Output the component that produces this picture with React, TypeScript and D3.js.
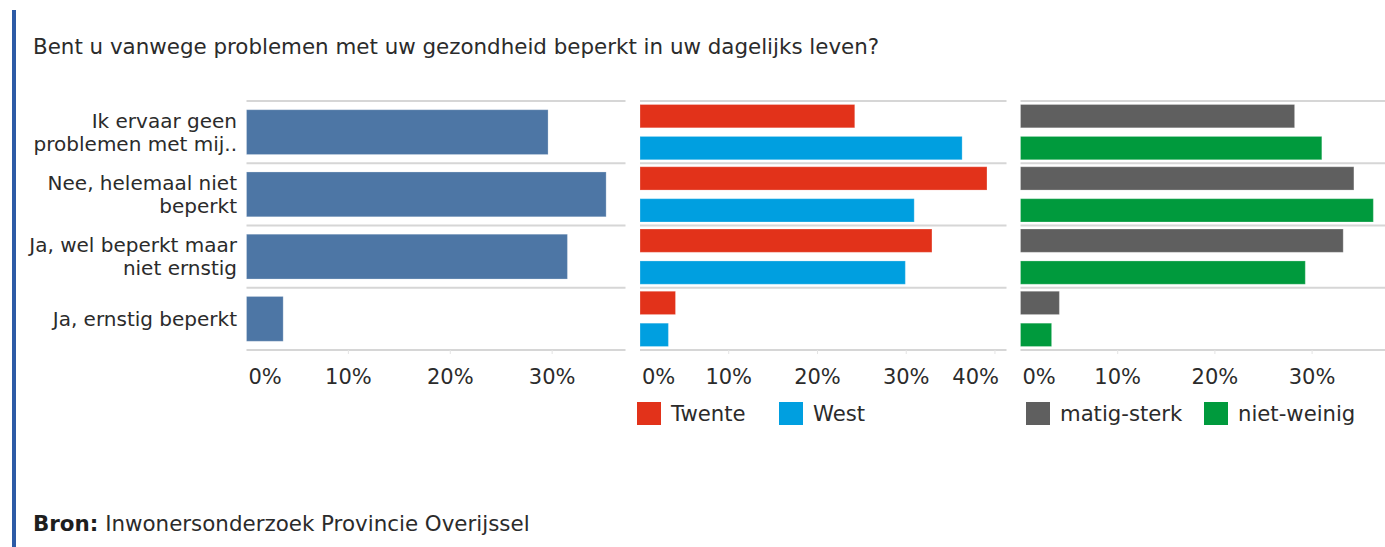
import React from "react";
import * as d3 from "d3";

const title = "Bent u vanwege problemen met uw gezondheid beperkt in uw dagelijks leven?";
const categories = [
  "Ik ervaar geen problemen met mij..",
  "Nee, helemaal niet beperkt",
  "Ja, wel beperkt maar niet ernstig",
  "Ja, ernstig beperkt",
];
const categoryLines = [
  ["Ik ervaar geen", "problemen met mij.."],
  ["Nee, helemaal niet", "beperkt"],
  ["Ja, wel beperkt maar", "niet ernstig"],
  ["Ja, ernstig beperkt"],
];
const totalValues = [29.6, 35.3, 31.5, 3.6];
const twenteValues = [24.2, 39.1, 32.9, 4.0];
const westValues = [36.3, 30.9, 29.9, 3.2];
const matigValues = [28.2, 34.3, 33.2, 4.0];
const nietValues = [31.0, 36.3, 29.3, 3.2];
const regionSeries = ["Twente", "West"];
const ervaringSeries = ["matig-sterk", "niet-weinig"];
const ticks1 = [0, 10, 20, 30];
const ticks2 = [0, 10, 20, 30, 40];
const ticks3 = [0, 10, 20, 30];
const source = "Inwonersonderzoek Provincie Overijssel";

const FONT = "'DejaVu Sans', Verdana, sans-serif";
const TEXT = "#2b2b2b";
const GRID = "#d6d6d6";

const yOuter = d3.scaleBand<string>().domain(categories).range([101, 350]).padding(0);

type PanelProps = {
  x0: number;
  x1: number;
  max: number;
  ticks: number[];
  series: { name: string; values: number[]; color: string }[];
};

function Panel({ x0, x1, max, ticks, series }: PanelProps) {
  const x = d3.scaleLinear().domain([0, max]).range([x0, x1]);
  const bw = yOuter.bandwidth();
  const grids = [...categories.map((c) => yOuter(c)!), 350];
  const single = series.length === 1;
  const yInner = single
    ? d3.scaleBand<string>().domain(series.map((s) => s.name)).range([0, bw]).paddingInner(0).paddingOuter(0.14)
    : d3.scaleBand<string>().domain(series.map((s) => s.name)).range([3.5, bw - 3.5]).paddingInner(0.27);
  const innerBw = single ? bw * 0.72 : yInner.bandwidth();
  return (
    <g>
      {grids.map((g, i) => (
        <line key={"g" + i} x1={x0} x2={x1} y1={g} y2={g} stroke={GRID} strokeWidth={2} />
      ))}
      {ticks.slice(1).map((t) => (
        <line key={"tm" + t} x1={x(t)} x2={x(t)} y1={350} y2={354} stroke="#e4e4e4" strokeWidth={1} />
      ))}
      {categories.map((c, ci) =>
        series.map((s) => {
          const yy = single ? yOuter(c)! + (bw - innerBw) / 2 : yOuter(c)! + yInner(s.name)!;
          return (
            <rect
              key={c + s.name}
              x={x(0)}
              y={yy}
              width={x(s.values[ci]) - x(0)}
              height={innerBw}
              fill={s.color}
              stroke="#ffffff"
              strokeOpacity={0.25}
              strokeWidth={1}
            />
          );
        })
      )}
      {ticks.map((t, i) => {
        const label = d3.format(".0%")(t / 100);
        let anchor: "start" | "middle" | "end" = "middle";
        let tx = x(t);
        if (i === 0) {
          anchor = "start";
          tx = x0 + 2;
        } else if (x(t) + 24 > x1) {
          anchor = "end";
          tx = x(t) + 4;
        }
        return (
          <text key={"t" + t} x={tx} y={383.5} textAnchor={anchor} fontSize={21} fill={TEXT} fontFamily={FONT}>
            {label}
          </text>
        );
      })}
    </g>
  );
}

function Legend({ items }: { items: { name: string; color: string; x: number }[] }) {
  return (
    <g>
      {items.map((it) => (
        <g key={it.name}>
          <rect x={it.x} y={402} width={24} height={23} fill={it.color} />
          <text x={it.x + 34} y={421} fontSize={21.2} fill={TEXT} fontFamily={FONT}>
            {it.name}
          </text>
        </g>
      ))}
    </g>
  );
}

export default function App() {
  return (
    <svg
      width={1385}
      height={547}
      style={{ position: "absolute", left: 0, top: 0, background: "#fff" }}
      fontFamily={FONT}
    >
      <rect x={0} y={0} width={1385} height={547} fill="#fff" />
      <rect x={12} y={10} width={4} height={537} fill="#2d5ba6" />
      <text x={33} y={53.5} fontSize={21.4} fill={TEXT}>
        {title}
      </text>

      {categories.map((c, i) => {
        const lines = categoryLines[i];
        const cy = yOuter(c)! + yOuter.bandwidth() / 2;
        return (
          <text key={c} textAnchor="end" fontSize={20} fill={TEXT}>
            {lines.map((l, j) => (
              <tspan key={j} x={237} y={cy + 7 + (j - (lines.length - 1) / 2) * 23}>
                {l}
              </tspan>
            ))}
          </text>
        );
      })}

      <Panel x0={246.5} x1={625.5} max={37.2} ticks={ticks1} series={[{ name: "Totaal", values: totalValues, color: "#4d76a5" }]} />
      <Panel
        x0={640}
        x1={1006.5}
        max={41.3}
        ticks={ticks2}
        series={[
          { name: regionSeries[0], values: twenteValues, color: "#e2321a" },
          { name: regionSeries[1], values: westValues, color: "#009fe0" },
        ]}
      />
      <Panel
        x0={1020.5}
        x1={1385}
        max={37.5}
        ticks={ticks3}
        series={[
          { name: ervaringSeries[0], values: matigValues, color: "#5f5f5f" },
          { name: ervaringSeries[1], values: nietValues, color: "#009a3d" },
        ]}
      />

      <Legend
        items={[
          { name: regionSeries[0], color: "#e2321a", x: 637 },
          { name: regionSeries[1], color: "#009fe0", x: 779 },
        ]}
      />
      <Legend
        items={[
          { name: ervaringSeries[0], color: "#5f5f5f", x: 1026 },
          { name: ervaringSeries[1], color: "#009a3d", x: 1204 },
        ]}
      />

      <text x={33} y={531} fontSize={21.4} fill={TEXT}>
        <tspan fontWeight="bold" fill="#1e1e1e">Bron:</tspan> {source}
      </text>
    </svg>
  );
}
